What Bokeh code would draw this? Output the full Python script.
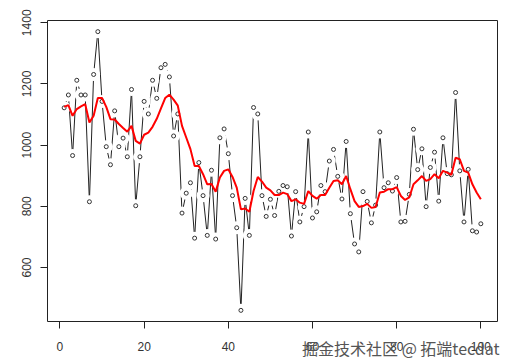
from bokeh.plotting import figure
from bokeh.models import Range1d, FixedTicker, ColumnDataSource, Title
from bokeh.embed import file_html
from bokeh.resources import INLINE

# ---- data ----
index = list(range(1, 101))
values = [1122, 1164, 966, 1212, 1164, 1164, 815, 1231, 1371, 1143,
          995, 936, 1112, 995, 1023, 962, 1182, 802, 962, 1143,
          1102, 1212, 1153, 1253, 1264, 1223, 1030, 1102, 778, 843,
          877, 696, 943, 835, 705, 918, 693, 1024, 1053, 972,
          835, 730, 460, 826, 705, 1123, 1102, 835, 767, 823,
          770, 849, 868, 864, 703, 848, 749, 799, 1043, 762,
          782, 868, 848, 948, 986, 898, 824, 1012, 776, 677,
          651, 848, 816, 746, 804, 1043, 861, 877, 850, 894,
          749, 751, 839, 1052, 920, 988, 799, 927, 977, 817,
          1024, 907, 903, 1172, 916, 749, 921, 720, 716, 743]
smooth = [1125, 1131, 1096, 1118, 1127, 1134, 1074, 1096, 1154, 1154,
          1125, 1085, 1084, 1069, 1056, 1044, 1063, 1014, 1005, 1034,
          1041, 1060, 1086, 1120, 1154, 1165, 1149, 1129, 1063, 1025,
          987, 932, 932, 905, 872, 873, 848, 894, 916, 921,
          896, 861, 790, 793, 782, 850, 896, 881, 861, 852,
          837, 837, 845, 840, 817, 823, 812, 808, 850, 834,
          825, 837, 837, 861, 883, 885, 872, 899, 856, 817,
          798, 801, 808, 795, 798, 845, 848, 856, 856, 863,
          834, 821, 829, 872, 885, 899, 883, 889, 905, 892,
          916, 910, 903, 959, 954, 916, 910, 872, 845, 823]
x_ticks = [0, 20, 40, 60, 80, 100]
y_ticks = [600, 800, 1000, 1200, 1400]
watermark = "掘金技术社区 @ 拓端tecdat"

src = ColumnDataSource(dict(x=index, y=values, s=smooth))

xmin, xmax = min(index), max(index)
ymin, ymax = min(values), max(values)
xpad = (xmax - xmin) * 0.04
ypad = (ymax - ymin) * 0.04

p = figure(width=505, height=364, output_backend="svg", toolbar_location=None,
           x_range=Range1d(xmin - xpad, xmax + xpad),
           y_range=Range1d(ymin - ypad, ymax + ypad),
           min_border_left=47, min_border_right=8,
           min_border_top=20, min_border_bottom=43)
p.background_fill_color = "white"
p.border_fill_color = "white"
p.outline_line_color = "#222222"
p.outline_line_width = 1
p.grid.visible = False

for ax in (p.xaxis[0], p.yaxis[0]):
    ax.axis_line_color = None
    ax.major_tick_out = 7
    ax.major_tick_in = 0
    ax.minor_tick_out = 0
    ax.minor_tick_in = 0
    ax.major_tick_line_color = "#222222"
    ax.major_label_text_font = "Liberation Sans"
    ax.major_label_text_font_size = "12px"
    ax.major_label_text_color = "#333333"
p.xaxis.ticker = FixedTicker(ticks=x_ticks)
p.yaxis.ticker = FixedTicker(ticks=y_ticks)
p.xaxis.major_label_standoff = 13
p.yaxis.major_label_standoff = 9
p.yaxis.major_label_orientation = "vertical"

# type="b" style: line, white gaps around points, open circles
p.line("x", "y", source=src, line_color="#222222", line_width=1)
p.scatter("x", "y", source=src, size=13, fill_color="white", line_color=None)
p.scatter("x", "y", source=src, size=4, marker="circle", fill_color=None,
          line_color="#333333", line_width=1)
p.line("x", "s", source=src, line_color="red", line_width=2)

wm = Title(text=watermark, align="right", vertical_align="top",
           text_font="Noto Sans CJK SC", text_font_size="16px",
           text_color="#555555", text_font_style="normal",
           standoff=-36, offset=-2)
p.add_layout(wm, "below")

open("out.html", "w").write(file_html(p, INLINE))
